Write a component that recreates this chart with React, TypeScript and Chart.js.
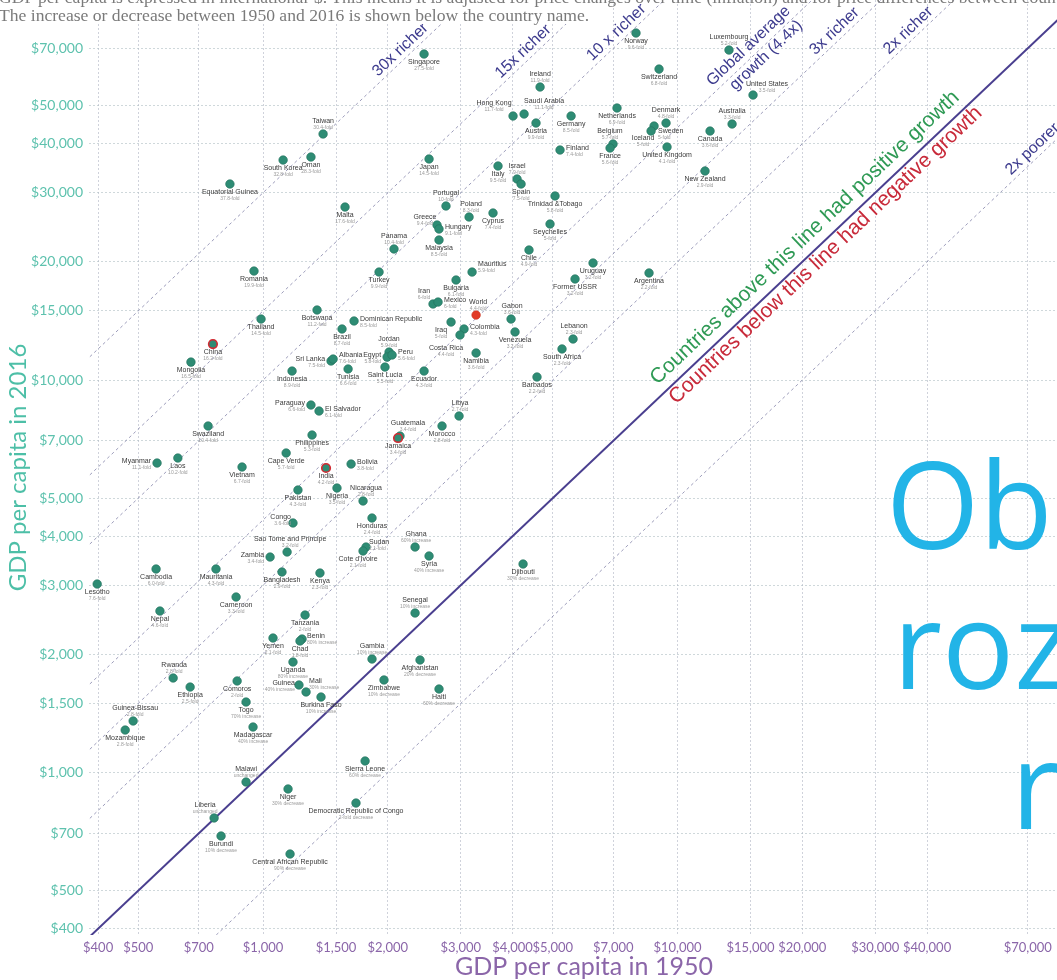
import React, { useEffect, useRef } from 'react';
import { Chart, registerables } from 'chart.js';

Chart.register(...registerables);

const countries = [
  'Singapore', 'Ireland', 'Hong Kong', 'Saudi Arabia', 'Austria', 'Germany', 'Netherlands', 'Norway', 'Switzerland', 'Luxembourg',
  'United States', 'Belgium', 'France', 'Finland', 'Denmark', 'Sweden', 'Iceland', 'United Kingdom', 'Australia', 'Canada',
  'New Zealand', 'Taiwan', 'South Korea', 'Oman', 'Equatorial Guinea', 'Japan', 'Italy', 'Israel', 'Spain', 'Trinidad &Tobago',
  'Portugal', 'Poland', 'Cyprus', 'Greece', 'Hungary', 'Malta', 'Seychelles', 'Panama', 'Malaysia', 'Chile',
  'Romania', 'Mauritius', 'Uruguay', 'Argentina', 'Turkey', 'Bulgaria', 'Iran', 'Mexico', 'World', 'Gabon',
  'Former USSR', 'Botswana', 'Thailand', 'Dominican Republic', 'Brazil', 'Iraq', 'Colombia', 'Costa Rica', 'Venezuela', 'Lebanon',
  'South Africa', 'China', 'Mongolia', 'Sri Lanka', 'Albania', 'Jordan', 'Egypt', 'Peru', 'Namibia', 'Indonesia',
  'Tunisia', 'Saint Lucia', 'Ecuador', 'Barbados', 'Paraguay', 'El Salvador', 'Libya', 'Swaziland', 'Philippines', 'Guatemala',
  'Jamaica', 'Morocco', 'Myanmar', 'Laos', 'Vietnam', 'Cape Verde', 'India', 'Bolivia', 'Pakistan', 'Nigeria',
  'Nicaragua', 'Congo', 'Honduras', 'Sao Tome and Principe', 'Zambia', 'Sudan', "Cote d'Ivoire", 'Ghana', 'Syria', 'Djibouti',
  'Cambodia', 'Mauritania', 'Bangladesh', 'Kenya', 'Lesotho', 'Cameroon', 'Nepal', 'Senegal', 'Tanzania', 'Yemen',
  'Benin', 'Chad', 'Gambia', 'Uganda', 'Afghanistan', 'Rwanda', 'Comoros', 'Ethiopia', 'Guinea', 'Mali',
  'Zimbabwe', 'Haiti', 'Burkina Faso', 'Togo', 'Guinea-Bissau', 'Mozambique', 'Madagascar', 'Sierra Leone', 'Malawi', 'Niger',
  'Democratic Republic of Congo', 'Liberia', 'Burundi', 'Central African Republic',
];

const gdp1950 = [
  2446, 4660, 4010, 4264, 4556, 5536, 7145, 7940, 9024, 13310,
  15210, 6988, 6874, 5206, 9382, 8778, 8633, 9434, 13540, 11980,
  11650, 1396, 1118, 1305, 832, 2515, 3689, 4101, 4193, 5064,
  2763, 3141, 3588, 2629, 2658, 1577, 4925, 2070, 2658, 4382,
  951, 3194, 6254, 8536, 1905, 2922, 2571, 2644, 3266, 3966,
  5659, 1350, 989, 1658, 1551, 2842, 3054, 2987, 4055, 5597,
  5264, 757, 670, 1459, 1476, 2014, 1992, 2048, 3266, 1175,
  1604, 1969, 2446, 4581, 1305, 1365, 2971, 737, 1313, 2140,
  2117, 2703, 555, 623, 890, 1137, 1419, 1631, 1214, 1508,
  1743, 1181, 1832, 1143, 1040, 1772, 1743, 2327, 2515, 4240,
  552, 770, 1111, 1372, 398, 861, 564, 2327, 1263, 1057,
  1242, 1228, 1832, 1181, 2392, 607, 866, 667, 1221, 1270,
  1958, 2658, 1380, 910, 486, 465, 946, 1763, 910, 1149,
  1676, 762, 792, 1162,
];

const gdp2016 = [
  67700, 55790, 47060, 47610, 45160, 47060, 49320, 76570, 61980, 69300,
  53220, 39930, 39000, 38550, 45160, 44370, 43090, 39240, 44900, 43090,
  34080, 42350, 36350, 37000, 31580, 36570, 35100, 32520, 31580, 29440,
  27760, 26020, 26640, 24830, 24250, 27590, 24970, 21570, 22740, 21440,
  18950, 18840, 19870, 18740, 18840, 17980, 15620, 15800, 14640, 14300,
  18090, 15080, 14300, 14140, 13490, 14050, 13490, 13020, 13260, 12720,
  12000, 12350, 11110, 11180, 11310, 11780, 11440, 11580, 11720, 10540,
  10670, 10790, 10540, 10180, 8635, 8337, 8096, 7636, 7242, 7200,
  7116, 7636, 6145, 6328, 6003, 6517, 5968, 6109, 5245, 5307,
  4918, 4323, 4450, 3646, 3540, 3754, 3667, 3754, 3562, 3398,
  3300, 3300, 3242, 3223, 3022, 2800, 2579, 2549, 2519, 2201,
  2188, 2163, 1946, 1912, 1935, 1741, 1711, 1651, 1671, 1604,
  1721, 1632, 1557, 1512, 1353, 1283, 1306, 1070, 946, 908,
  836, 766, 689, 620,
];

const changeText = [
  '27.5-fold', '11.9-fold', '11.7-fold', '11.1-fold', '9.9-fold', '8.5-fold', '6.9-fold', '9.6-fold', '6.8-fold', '5.2-fold',
  '3.5-fold', '5.7-fold', '5.6-fold', '7.4-fold', '4.8-fold', '5-fold', '5-fold', '4.1-fold', '3.3-fold', '3.6-fold',
  '2.9-fold', '30.4-fold', '32.8-fold', '28.3-fold', '37.8-fold', '14.5-fold', '9.5-fold', '7.9-fold', '7.5-fold', '5.8-fold',
  '10-fold', '8.3-fold', '7.4-fold', '9.4-fold', '9.1-fold', '17.6-fold', '5-fold', '10.4-fold', '8.5-fold', '4.9-fold',
  '19.9-fold', '5.9-fold', '3.2-fold', '2.2-fold', '9.9-fold', '6.1-fold', '6-fold', '6-fold', '4.4-fold', '3.6-fold',
  '3.2-fold', '11.2-fold', '14.5-fold', '8.5-fold', '8.7-fold', '5-fold', '4.3-fold', '4.4-fold', '3.2-fold', '2.3-fold',
  '2.3-fold', '16.2-fold', '16.5-fold', '7.5-fold', '7.6-fold', '5.9-fold', '5.8-fold', '5.6-fold', '3.6-fold', '8.9-fold',
  '6.6-fold', '5.5-fold', '4.3-fold', '2.2-fold', '6.6-fold', '6.1-fold', '2.7-fold', '10.4-fold', '5.3-fold', '3.4-fold',
  '3.4-fold', '2.8-fold', '11.1-fold', '10.2-fold', '6.7-fold', '5.7-fold', '4.2-fold', '3.8-fold', '4.3-fold', '3.5-fold',
  '2.8-fold', '3.6-fold', '2.4-fold', '3.2-fold', '3.4-fold', '2.1-fold', '2.1-fold', '60% increase', '40% increase', '30% decrease',
  '6.0-fold', '4.3-fold', '2.9-fold', '2.3-fold', '7.6-fold', '3.3-fold', '4.6-fold', '10% increase', '2-fold', '2.1-fold',
  '80% increase', '1.8-fold', '10% increase', '80% increase', '20% decrease', '2.8-fold', '2-fold', '2.5-fold', '40% increase', '30% increase',
  '10% decrease', '60% decrease', '10% increase', '70% increase', '2.8-fold', '2.8-fold', '40% increase', '60% decrease', 'unchanged', '30% decrease',
  '2-fold decrease', 'unchanged', '10% decrease', '90% decrease',
];

const xTickValues = [400, 500, 700, 1000, 1500, 2000, 3000, 4000, 5000, 7000, 10000, 15000, 20000, 30000, 40000, 70000];
const yTickValues = [400, 500, 700, 1000, 1500, 2000, 3000, 4000, 5000, 7000, 10000, 15000, 20000, 30000, 40000, 50000, 70000];

const growthMultiples = [30, 15, 10, 4.4, 3, 2, 1, 0.5];

// label placement around each dot: [side, dx, dy]
const labelPlacement: Record<string, [string, number, number]> = {
  'Ireland': ['a', 0, 0], 'Hong Kong': ['a', -19, 0], 'Saudi Arabia': ['a', 20, 0], 'Luxembourg': ['a', 0, 0],
  'United States': ['a', 14, 2], 'Belgium': ['a', -3, 0], 'Finland': ['r', 0, 0], 'Denmark': ['a', 0, 0],
  'Sweden': ['r', -2, 7], 'Iceland': ['b', -8, -1], 'Australia': ['a', 0, 0], 'Taiwan': ['a', 0, 0],
  'Israel': ['a', 0, 0], 'Portugal': ['a', 0, 0], 'Poland': ['a', 2, 0], 'Greece': ['a', -12, 5],
  'Hungary': ['r', 0, 0], 'Panama': ['a', 0, 0], 'Mauritius': ['r', 0, -6], 'Iran': ['a', -9, 0],
  'Mexico': ['r', 0, 0], 'World': ['a', 2, 0], 'Gabon': ['a', 1, 0], 'Dominican Republic': ['r', 0, 0],
  'Iraq': ['b', -10, 0], 'Colombia': ['r', 0, 0], 'Costa Rica': ['b', -14, 5], 'Lebanon': ['a', 1, 0],
  'Sri Lanka': ['l', 0, 0], 'Albania': ['r', 0, -2], 'Jordan': ['a', 0, 0], 'Egypt': ['l', 0, 0],
  'Peru': ['r', 0, -1], 'Paraguay': ['l', 0, 0], 'El Salvador': ['r', 0, 0], 'Libya': ['a', 1, 0],
  'Guatemala': ['a', 8, 0], 'Myanmar': ['l', 0, 0], 'Bolivia': ['r', 0, 0], 'Nicaragua': ['a', 3, 0],
  'Congo': ['l', 4, -4], 'Sao Tome and Principe': ['a', 3, 0], 'Zambia': ['l', 0, 0], 'Sudan': ['r', -3, -3],
  "Cote d'Ivoire": ['b', -5, 0], 'Ghana': ['a', 1, 0], 'Senegal': ['a', 0, 0], 'Benin': ['r', -1, -1],
  'Gambia': ['a', 0, 0], 'Rwanda': ['a', 1, 0], 'Guinea': ['l', 2, 0], 'Mali': ['r', -3, -9],
  'Guinea-Bissau': ['a', 2, 0], 'Malawi': ['a', 0, 0], 'Liberia': ['a', -9, 0],
};

const ringCountries = ['China', 'India', 'Jamaica'];

const AXIS_PURPLE = '#8b66a9';
const AXIS_TEAL = '#5ec2ae';
const NAVY = '#3d3b8e';

const fmt = (v: number) => '$' + Number(v).toLocaleString('en-US');

const overlayPlugin = {
  id: 'overlayText',
  afterDatasetsDraw(chart: any) {
    const { ctx, scales } = chart;
    const xs = scales.x;
    const ys = scales.y;
    const px = (v: number) => xs.getPixelForValue(v);
    const py = (v: number) => ys.getPixelForValue(v);
    const ang = Math.atan2(py(10000) - py(1000), px(10000) - px(1000));

    const along = (k: number, xv: number, lines: { t: string; a: number; p: number; font: string; color: string }[]) => {
      ctx.save();
      ctx.translate(px(xv), py(xv * k));
      ctx.rotate(ang);
      ctx.textAlign = 'left';
      ctx.textBaseline = 'alphabetic';
      for (const l of lines) {
        ctx.font = l.font;
        ctx.fillStyle = l.color;
        ctx.fillText(l.t, l.a, -l.p);
      }
      ctx.restore();
    };

    const f16 = '16px "Liberation Sans", Arial, sans-serif';
    along(30, 1930, [{ t: '30x richer', a: 0, p: 5, font: f16, color: NAVY }]);
    along(15, 3820, [{ t: '15x richer', a: 0, p: 5, font: f16, color: NAVY }]);
    along(10, 6350, [{ t: '10 x richer', a: 0, p: 5, font: f16, color: NAVY }]);
    along(4.4, 12400, [
      { t: 'Global average', a: 0, p: 6, font: f16, color: NAVY },
      { t: 'growth (4.4x)', a: 14, p: -13, font: f16, color: NAVY },
    ]);
    along(3, 21900, [{ t: '3x richer', a: 0, p: 5, font: f16, color: NAVY }]);
    along(2, 33000, [{ t: '2x richer', a: 0, p: 5, font: f16, color: NAVY }]);
    along(0.5, 65000, [{ t: '2x poorer', a: 0, p: 5, font: f16, color: NAVY }]);

    const f21 = '21px "Liberation Sans", Arial, sans-serif';
    ctx.save();
    ctx.translate(px(9300), py(9300));
    ctx.rotate(ang);
    ctx.font = f21;
    ctx.textAlign = 'left';
    ctx.textBaseline = 'alphabetic';
    ctx.fillStyle = '#2f9a55';
    ctx.fillText('Countries above this line had positive growth', 0, -10);
    ctx.fillStyle = '#c82a3a';
    ctx.fillText('Countries below this line had negative growth', 0, 17);
    ctx.restore();

    // country labels
    const nameFont = '7px "Liberation Sans", Arial, sans-serif';
    const foldFont = '5px "Liberation Sans", Arial, sans-serif';
    ctx.save();
    ctx.textBaseline = 'middle';
    countries.forEach((name, i) => {
      const x = px(gdp1950[i]);
      const y = py(gdp2016[i]);
      const [side, dx, dy] = labelPlacement[name] || ['b', 0, 0];
      let nx = x + dx, ny = y + dy, fy = 0, align: CanvasTextAlign = 'center';
      if (side === 'b') { ny = y + 8 + dy; fy = ny + 6.5; }
      else if (side === 'a') { ny = y - 13 + dy; fy = ny + 6.5; }
      else if (side === 'r') { nx = x + 6 + dx; ny = y - 2 + dy; fy = ny + 6.5; align = 'left'; }
      else { nx = x - 6 + dx; ny = y - 2 + dy; fy = ny + 6.5; align = 'right'; }
      ctx.textAlign = align;
      ctx.font = nameFont;
      ctx.fillStyle = '#3a3a3a';
      ctx.fillText(name, nx, ny);
      ctx.font = foldFont;
      ctx.fillStyle = '#9a9a9a';
      ctx.fillText(changeText[i], nx, fy);
    });
    ctx.restore();

    // x axis title
    ctx.save();
    ctx.font = '25px Lato, sans-serif';
    ctx.fillStyle = AXIS_PURPLE;
    ctx.textAlign = 'center';
    ctx.textBaseline = 'alphabetic';
    ctx.fillText('GDP per capita in 1950', 584, 975);
    ctx.restore();
  },
};

export default function App() {
  const canvasRef = useRef<HTMLCanvasElement>(null);

  useEffect(() => {
    const canvas = canvasRef.current;
    if (!canvas) return;

    const lineDatasets = growthMultiples.map((k) => ({
      label: k + 'x',
      data: [
        { x: 300, y: 300 * k },
        { x: 90000, y: 90000 * k },
      ],
      showLine: true,
      borderColor: k === 1 ? '#4a3f8f' : 'rgba(140,140,175,0.85)',
      borderWidth: k === 1 ? 2 : 1,
      borderDash: k === 1 ? [] : [3, 3],
      pointRadius: 0,
      fill: false,
      order: 2,
    }));

    const pointDataset = {
      label: 'Countries',
      data: countries.map((c, i) => ({ x: gdp1950[i], y: gdp2016[i] })),
      pointRadius: 4.3,
      pointBackgroundColor: countries.map((c) => (c === 'World' ? '#e23b26' : '#2e8c74')),
      pointBorderColor: countries.map((c) =>
        c === 'World' ? '#c9301d' : ringCountries.includes(c) ? '#d22a32' : '#21705c'
      ),
      pointBorderWidth: countries.map((c) => (ringCountries.includes(c) ? 1.6 : 0.6)),
      showLine: false,
      order: 1,
    };

    const chart = new Chart(canvas, {
      type: 'scatter',
      data: { datasets: [pointDataset, ...lineDatasets] as any },
      options: {
        responsive: false,
        animation: false,
        events: [],
        layout: { padding: 0, autoPadding: false },
        plugins: { legend: { display: false }, tooltip: { enabled: false }, title: { display: false } },
        scales: {
          x: {
            type: 'logarithmic',
            min: 380.3,
            max: 82320,
            afterBuildTicks: (s: any) => {
              s.ticks = xTickValues.map((v) => ({ value: v }));
            },
            afterFit: (s: any) => {
              s.height = 45;
              s.paddingLeft = 0;
              s.paddingRight = 0;
            },
            ticks: {
              autoSkip: false,
              maxRotation: 0,
              minRotation: 0,
              padding: 5,
              color: AXIS_PURPLE,
              font: { family: 'Lato', size: 13 },
              callback: (v: any) => fmt(v),
            },
            grid: { color: 'rgba(175,180,195,0.6)', lineWidth: 1, drawTicks: false },
            border: { display: false, dash: [2, 2] },
            title: { display: false },
          },
          y: {
            type: 'logarithmic',
            min: 385.5,
            max: 92950,
            afterBuildTicks: (s: any) => {
              s.ticks = yTickValues.map((v) => ({ value: v }));
            },
            afterFit: (s: any) => {
              s.width = 89;
              s.paddingTop = 0;
              s.paddingBottom = 0;
            },
            ticks: {
              autoSkip: false,
              padding: 6,
              color: AXIS_TEAL,
              font: { family: 'Lato', size: 14 },
              callback: (v: any) => fmt(v),
            },
            grid: { color: 'rgba(175,190,195,0.6)', lineWidth: 1, drawTicks: false },
            border: { display: false, dash: [2, 2] },
            title: {
              display: true,
              text: 'GDP per capita in 2016',
              color: '#4dbfa7',
              font: { family: 'Lato', size: 24 },
              padding: { top: 4, bottom: 0 },
            },
          },
        },
      },
      plugins: [overlayPlugin],
    } as any);

    return () => chart.destroy();
  }, []);

  return (
    <div
      style={{
        position: 'fixed',
        left: 0,
        top: 0,
        width: 1057,
        height: 980,
        overflow: 'hidden',
        background: '#ffffff',
      }}
    >
      <canvas
        ref={canvasRef}
        width={1057}
        height={980}
        style={{ position: 'absolute', left: 0, top: 0, width: 1057, height: 980 }}
      />
      <div
        style={{
          position: 'absolute',
          left: 0,
          top: 0,
          width: 600,
          height: 24,
          background: '#ffffff',
        }}
      />
      <div
        style={{
          position: 'absolute',
          left: -1,
          top: -12,
          fontFamily: '"Liberation Serif", "DejaVu Serif", serif',
          fontSize: 17.6,
          lineHeight: '18px',
          color: '#7a7a7a',
          whiteSpace: 'nowrap',
        }}
      >
        <div>
          GDP per capita is expressed in international-$. This means it is adjusted for price changes over time (inflation) and for price differences between countries.
        </div>
        <div>The increase or decrease between 1950 and 2016 is shown below the country name.</div>
      </div>
      <div
        style={{
          position: 'absolute',
          left: 0,
          top: 0,
          fontFamily: '"Open Sans", sans-serif',
          fontSize: 120,
          lineHeight: 1,
          color: '#22b4e7',
          whiteSpace: 'pre',
        }}
      >
        <div style={{ position: 'absolute', left: 886, top: 443 }}>Ob</div>
        <div style={{ position: 'absolute', left: 893, top: 583 }}>roz</div>
        <div style={{ position: 'absolute', left: 1011, top: 723 }}>r</div>
      </div>
    </div>
  );
}
